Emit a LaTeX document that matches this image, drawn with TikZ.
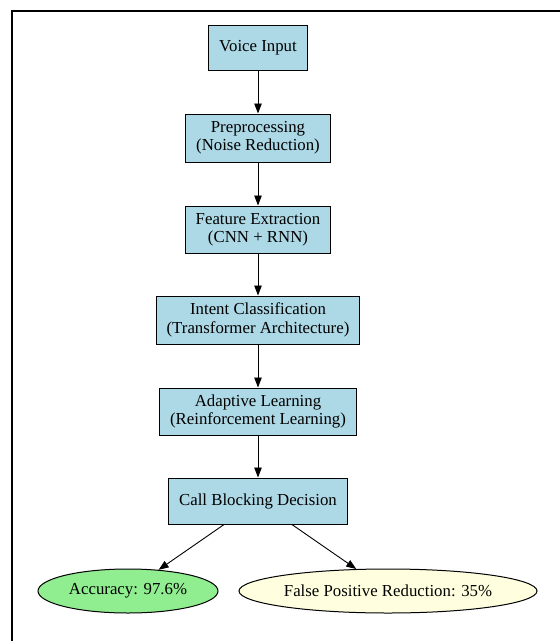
\documentclass[tikz,border=0pt]{standalone}
\usepackage{fontspec}
\setmainfont{Liberation Serif}
\usetikzlibrary{arrows.meta,shapes.geometric}
\definecolor{boxblue}{HTML}{ADD8E6}
\definecolor{accgreen}{HTML}{90EE90}
\definecolor{fpyellow}{HTML}{FFFFE0}
\tikzset{
  stepbox/.style={draw=black, line width=1pt, fill=boxblue, rectangle, align=center, inner sep=0pt,
    font=\fontsize{16.8}{18.3}\selectfont},
  result/.style={draw=black, line width=1pt, ellipse, inner sep=0pt, align=center,
    font=\fontsize{16.8}{18.3}\selectfont},
  flow/.style={draw=black, line width=0.9pt, -{Triangle[length=10pt,width=7.5pt]}},
}
\begin{document}
\begin{tikzpicture}[x=1pt,y=-1pt]
\useasboundingbox (0,0) rectangle (560,641);
\draw[line width=2.5pt] (12,645) -- (12,11) -- (565,11);
\node[stepbox, minimum width=99pt, minimum height=44.5pt] (vi) at (258,47.8) {Voice Input};
\node[stepbox, minimum width=145pt, minimum height=48pt] (pp) at (258,138) {Preprocessing\\(Noise Reduction)};
\node[stepbox, minimum width=145pt, minimum height=47pt] (fe) at (258,229.5) {Feature Extraction\\(CNN + RNN)};
\node[stepbox, minimum width=203pt, minimum height=48pt] (ic) at (258,320) {Intent Classification\\(Transformer Architecture)};
\node[stepbox, minimum width=197pt, minimum height=47pt] (al) at (258,411.5) {Adaptive Learning\\(Reinforcement Learning)};
\node[stepbox, minimum width=179pt, minimum height=46pt] (cb) at (258,501) {Call Blocking Decision};
\node[result, fill=accgreen, minimum width=180pt, minimum height=44pt] (acc) at (128,591) {Accuracy: 97.6\%};
\node[result, fill=fpyellow, minimum width=298pt, minimum height=44pt] (fp) at (388,591) {False Positive Reduction: 35\%};
\draw[flow] (vi) -- (pp);
\draw[flow] (pp) -- (fe);
\draw[flow] (fe) -- (ic);
\draw[flow] (ic) -- (al);
\draw[flow] (al) -- (cb);
\draw[flow] (cb) -- (acc);
\draw[flow] (cb) -- (fp);
\end{tikzpicture}
\end{document}
